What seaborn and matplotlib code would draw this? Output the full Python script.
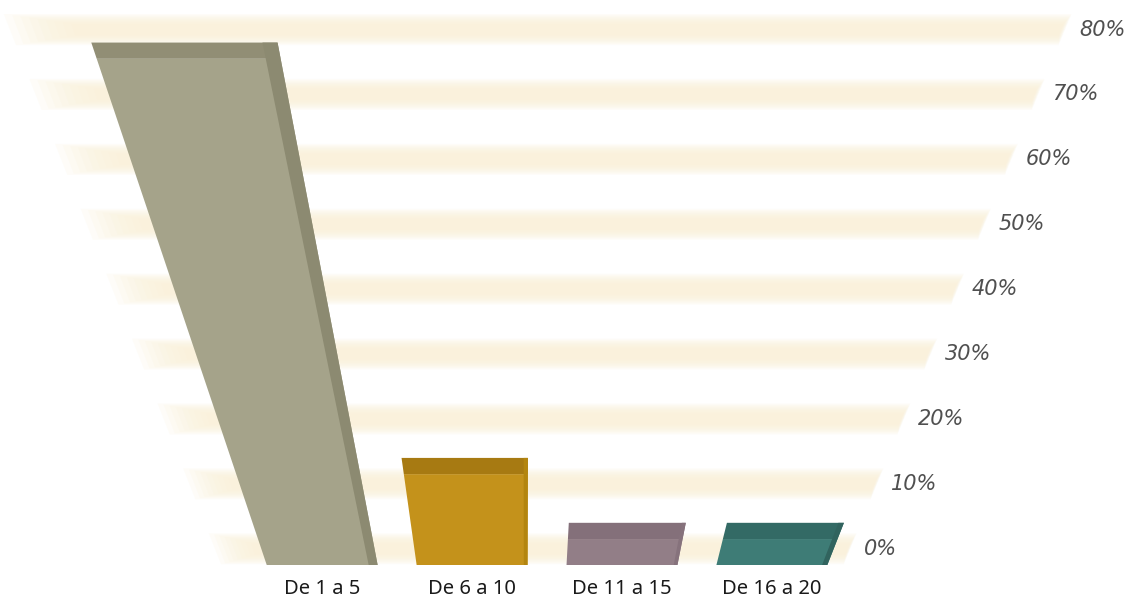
import numpy as np
import pandas as pd
import matplotlib
matplotlib.use("Agg")
import matplotlib.pyplot as plt
from matplotlib.transforms import Transform
from matplotlib.patches import Rectangle
import seaborn as sns

# ---- data -------------------------------------------------------------
categories = ["De 1 a 5", "De 6 a 10", "De 11 a 15", "De 16 a 20"]
shares = [78, 14, 4, 4]                       # percent of respondents
tick_values = [0, 10, 20, 30, 40, 50, 60, 70, 80]
tick_labels = [f"{v}%" for v in tick_values]

# ---- styling ----------------------------------------------------------
front_colors = ["#A5A38A", "#C4921B", "#927E87", "#3E7C76"]
top_colors = ["#918E75", "#A77A12", "#84707A", "#336A65"]
side_colors = ["#8C8A71", "#B3850F", "#86727C", "#31635E"]
side_widths = [0.06, 0.025, 0.025, 0.035]
band_color = "#FAF0D6"
DEPTH = 2.5          # depth of the 3-D bars / offset of the back wall, in %
BAR_WIDTH = 0.74

sns.set_theme(style="white")
plt.rcParams["font.family"] = ["Noto Sans", "DejaVu Sans"]

W, H, DPI = 1127, 599, 100
fig = plt.figure(figsize=(W / DPI, H / DPI), dpi=DPI)
fig.patch.set_facecolor("white")

# axes geometry in pixels (display coordinates, origin bottom-left)
px_per_pct = 6.49
floor_y = 34
ymax = 86
left_px, right_px = 215, 850
ax = fig.add_axes([left_px / W, floor_y / H, (right_px - left_px) / W,
                   ymax * px_per_pct / H])
ax.set_facecolor("none")


class Keystone(Transform):
    """Perspective squeeze: horizontal spread grows linearly with height,
    converging toward a vanishing point below the figure."""
    input_dims = output_dims = 2
    is_separable = False
    has_inverse = False

    def __init__(self, cx, vanish_y, ref_y):
        super().__init__()
        self.cx, self.vy, self.ref = cx, vanish_y, ref_y

    def transform_non_affine(self, values):
        v = np.asarray(values, dtype=float).reshape(-1, 2)
        s = (v[:, 1] - self.vy) / (self.ref - self.vy)
        return np.column_stack([self.cx + (v[:, 0] - self.cx) * s, v[:, 1]])


ks = Keystone(cx=525, vanish_y=-735, ref_y=50)
data_ks = ax.transData + ks
yaxis_ks = ax.get_yaxis_transform() + ks

# ---- bars ---------------------------------------------------------------
df = pd.DataFrame({"grupo": categories, "pct": shares})
sns.barplot(data=df, x="grupo", y="pct", hue="grupo", palette=front_colors,
            width=BAR_WIDTH, legend=False, saturation=1, ax=ax, zorder=3)
bars = [p for cont in ax.containers for p in cont]

for i, bar in enumerate(bars):
    bar.set_transform(data_ks)
    bar.set_clip_on(False)
    bar.set_edgecolor("none")
    bar.set_linewidth(0)
    x, w, h = bar.get_x(), bar.get_width(), bar.get_height()
    # top face
    top = Rectangle((x, h), w, DEPTH, facecolor=top_colors[i],
                    edgecolor="none", linewidth=0, zorder=4)
    # right side face
    side = Rectangle((x + w - side_widths[i], 0), side_widths[i], h + DEPTH,
                     facecolor=side_colors[i], edgecolor="none", linewidth=0,
                     zorder=5)
    for p in (top, side):
        ax.add_patch(p)
        p.set_transform(data_ks)
        p.set_clip_on(False)

# ---- back wall: soft cream bands at every 10 % -------------------------
n_layers = 9
for t in tick_values:
    c = t + DEPTH
    for k in range(n_layers):
        f = k / (n_layers - 1)
        hh = (15.5 - 10.0 * f) / px_per_pct
        x0 = 0.06 * f
        p = ax.axhspan(c - hh, c + hh, xmin=x0, xmax=1.0 - 0.004 * f,
                       facecolor=band_color, edgecolor="none", linewidth=0,
                       alpha=0.16, zorder=0)
        p.set_transform(yaxis_ks)
        p.set_clip_on(False)

for t, lab in zip(tick_values, tick_labels):
    ax.annotate(lab, xy=(1.0, t + DEPTH), xycoords=yaxis_ks,
                xytext=(10, 0), textcoords="offset points",
                ha="left", va="center", fontsize=15, style="italic",
                family="DejaVu Sans", color="#505050", annotation_clip=False)

# category labels under each bar
for i, cat in enumerate(categories):
    ax.annotate(cat, xy=(i, 0), xycoords=data_ks, xytext=(0, -17),
                textcoords="offset points", ha="center", va="center",
                fontsize=14.5, color="#1A1A1A", annotation_clip=False)

# ---- axes cosmetics ----------------------------------------------------
ax.set_xlim(-0.673, 3.477)
ax.set_ylim(0, ymax)
ax.set_xticks([])
ax.set_yticks([])
ax.set_xlabel("")
ax.set_ylabel("")
for s in ax.spines.values():
    s.set_visible(False)

fig.savefig("out.png", dpi=DPI, facecolor="white")
